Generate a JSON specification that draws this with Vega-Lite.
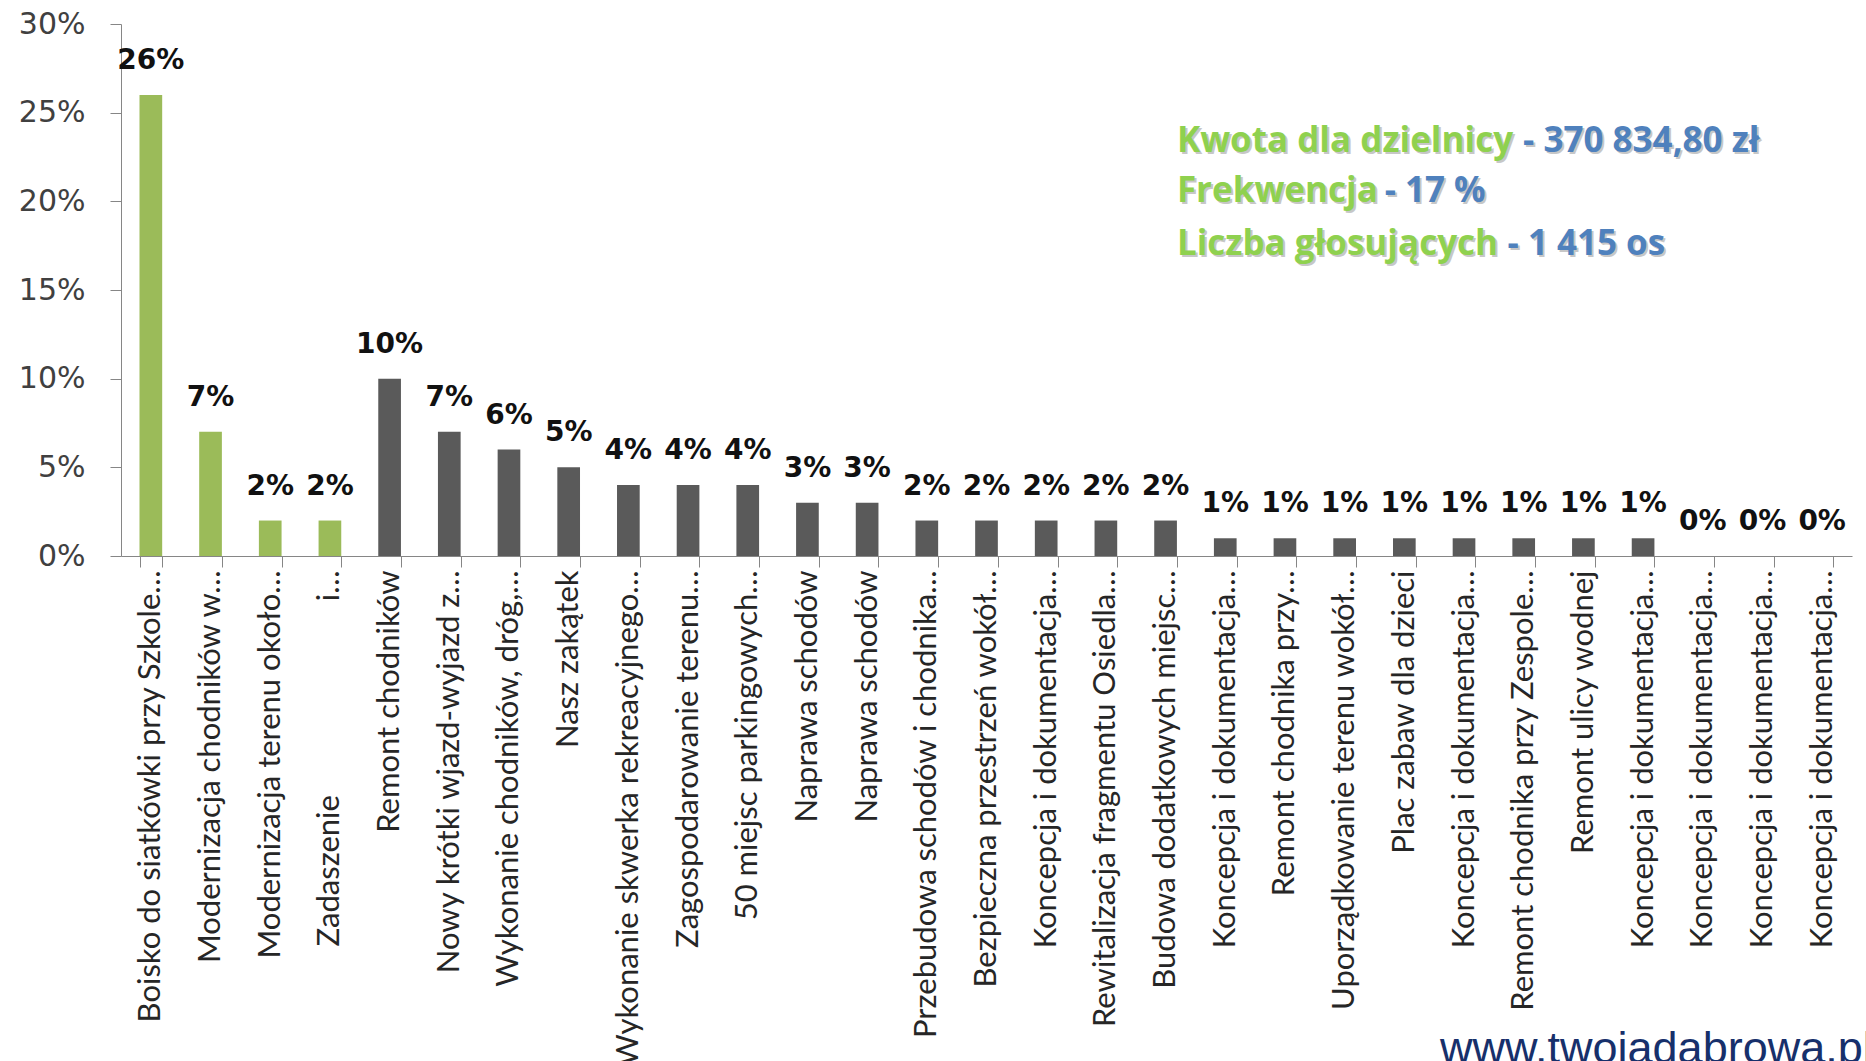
{
  "$schema": "https://vega.github.io/schema/vega-lite/v6.json",
  "width": 1731,
  "height": 532,
  "autosize": {"type": "none"},
  "padding": {"left": 121, "top": 24, "right": 14, "bottom": 505},
  "background": "#ffffff",
  "config": {"view": {"stroke": null}},
  "datasets": {
    "projekty": [
      {"projekt": "Boisko do siatkówki przy Szkole…", "procent": 0.26, "grupa": "zielona"},
      {"projekt": "Modernizacja chodników w…", "procent": 0.07, "grupa": "zielona"},
      {"projekt": "Modernizacja terenu około…", "procent": 0.02, "grupa": "zielona"},
      {"projekt": "Zadaszenie\u2003\u2003\u2003\u2003\u2003\u2003\u2003\u2003\u00a0i…", "procent": 0.02, "grupa": "zielona"},
      {"projekt": "Remont chodników", "procent": 0.10, "grupa": "szara"},
      {"projekt": "Nowy krótki wjazd-wyjazd z…", "procent": 0.07, "grupa": "szara"},
      {"projekt": "Wykonanie chodników, dróg,…", "procent": 0.06, "grupa": "szara"},
      {"projekt": "Nasz zakątek", "procent": 0.05, "grupa": "szara"},
      {"projekt": "Wykonanie skwerka rekreacyjnego…", "procent": 0.04, "grupa": "szara"},
      {"projekt": "Zagospodarowanie terenu…", "procent": 0.04, "grupa": "szara"},
      {"projekt": "50 miejsc parkingowych…", "procent": 0.04, "grupa": "szara"},
      {"projekt": "Naprawa schodów", "procent": 0.03, "grupa": "szara"},
      {"projekt": "Naprawa schodów\u200b", "procent": 0.03, "grupa": "szara"},
      {"projekt": "Przebudowa schodów i chodnika…", "procent": 0.02, "grupa": "szara"},
      {"projekt": "Bezpieczna przestrzeń wokół…", "procent": 0.02, "grupa": "szara"},
      {"projekt": "Koncepcja i dokumentacja…", "procent": 0.02, "grupa": "szara"},
      {"projekt": "Rewitalizacja fragmentu Osiedla…", "procent": 0.02, "grupa": "szara"},
      {"projekt": "Budowa dodatkowych miejsc…", "procent": 0.02, "grupa": "szara"},
      {"projekt": "Koncepcja i dokumentacja…\u200b", "procent": 0.01, "grupa": "szara"},
      {"projekt": "Remont chodnika przy…", "procent": 0.01, "grupa": "szara"},
      {"projekt": "Uporządkowanie terenu wokół…", "procent": 0.01, "grupa": "szara"},
      {"projekt": "Plac zabaw dla dzieci", "procent": 0.01, "grupa": "szara"},
      {"projekt": "Koncepcja i dokumentacja…\u200b\u200b", "procent": 0.01, "grupa": "szara"},
      {"projekt": "Remont chodnika przy Zespole…", "procent": 0.01, "grupa": "szara"},
      {"projekt": "Remont ulicy wodnej", "procent": 0.01, "grupa": "szara"},
      {"projekt": "Koncepcja i dokumentacja…\u200b\u200b\u200b", "procent": 0.01, "grupa": "szara"},
      {"projekt": "Koncepcja i dokumentacja…\u200b\u200b\u200b\u200b", "procent": 0.0, "grupa": "szara"},
      {"projekt": "Koncepcja i dokumentacja…\u200b\u200b\u200b\u200b\u200b", "procent": 0.0, "grupa": "szara"},
      {"projekt": "Koncepcja i dokumentacja…\u200b\u200b\u200b\u200b\u200b\u200b", "procent": 0.0, "grupa": "szara"}
    ],
    "adnotacje": [
      {"tekst": "Kwota dla dzielnicy", "rodzaj": "nazwa", "poz_x": 61.0, "poz_y": 0.2278},
      {"tekst": "- 370 834,80 zł", "rodzaj": "wartosc", "poz_x": 81.0, "poz_y": 0.2278},
      {"tekst": "Frekwencja", "rodzaj": "nazwa", "poz_x": 61.0, "poz_y": 0.1996},
      {"tekst": "- 17 %", "rodzaj": "wartosc", "poz_x": 73.0, "poz_y": 0.1996},
      {"tekst": "Liczba głosujących", "rodzaj": "nazwa", "poz_x": 61.0, "poz_y": 0.1697},
      {"tekst": "- 1 415 os", "rodzaj": "wartosc", "poz_x": 80.1, "poz_y": 0.1697}
    ],
    "strona": [
      {"tekst": "www.twojadabrowa.pl", "poz_x": 76.2, "poz_y": -0.2859}
    ]
  },
  "resolve": {"scale": {"x": "independent", "y": "independent", "color": "independent"}},
  "layer": [
    {
      "data": {"name": "projekty"},
      "layer": [
        {
          "mark": {"type": "bar"},
          "encoding": {
            "x": {
              "field": "projekt", "type": "nominal", "sort": null,
              "scale": {"paddingInner": 0.62, "paddingOuter": 0.31},
              "axis": {
                "title": null, "labelAngle": -90, "labelFont": "Lato", "labelFontSize": 31,
                "labelColor": "#262626", "labelLimit": 1200, "labelOverlap": false,
                "tickBand": "extent", "tickSize": 11, "tickColor": "#868686",
                "domainColor": "#868686", "labelPadding": 3
              }
            },
            "y": {
              "field": "procent", "type": "quantitative",
              "scale": {"domain": [0, 0.3], "nice": false},
              "axis": {
                "title": null, "values": [0, 0.05, 0.1, 0.15, 0.2, 0.25, 0.3], "format": ".0%",
                "grid": false, "labelFont": "DejaVu Sans", "labelFontSize": 30,
                "labelColor": "#404040", "tickSize": 11, "tickColor": "#868686",
                "domainColor": "#868686", "labelPadding": 25
              }
            },
            "color": {
              "field": "grupa", "type": "nominal", "legend": null,
              "scale": {"domain": ["zielona", "szara"], "range": ["#9bbb59", "#5a5a5a"]}
            }
          }
        },
        {
          "mark": {"type": "text", "font": "DejaVu Sans", "fontWeight": "bold", "fontSize": 28, "dy": -26, "baseline": "alphabetic", "color": "#111111"},
          "encoding": {
            "x": {"field": "projekt", "type": "nominal", "sort": null},
            "y": {"field": "procent", "type": "quantitative"},
            "text": {"field": "procent", "type": "quantitative", "format": ".0%"}
          }
        }
      ]
    },
    {
      "layer": [
        {
          "data": {"name": "adnotacje"},
          "mark": {"type": "text", "font": "Open Sans", "fontWeight": "bold", "fontSize": 35, "align": "left", "baseline": "alphabetic", "dx": 2, "dy": 2, "color": "#9a9a9a", "opacity": 0.55},
          "encoding": {
            "x": {"field": "poz_x", "type": "quantitative", "scale": {"domain": [0, 100]}, "axis": null},
            "y": {"field": "poz_y", "type": "quantitative", "scale": {"domain": [0, 0.3], "nice": false}, "axis": null},
            "text": {"field": "tekst"}
          }
        },
        {
          "data": {"name": "adnotacje"},
          "mark": {"type": "text", "font": "Open Sans", "fontWeight": "bold", "fontSize": 35, "align": "left", "baseline": "alphabetic"},
          "encoding": {
            "x": {"field": "poz_x", "type": "quantitative", "scale": {"domain": [0, 100]}, "axis": null},
            "y": {"field": "poz_y", "type": "quantitative", "scale": {"domain": [0, 0.3], "nice": false}, "axis": null},
            "text": {"field": "tekst"},
            "color": {
              "field": "rodzaj", "type": "nominal", "legend": null,
              "scale": {"domain": ["nazwa", "wartosc"], "range": ["#8fd14f", "#4f81bd"]}
            }
          }
        },
        {
          "data": {"name": "strona"},
          "mark": {"type": "text", "font": "Liberation Sans", "fontSize": 45, "align": "left", "baseline": "alphabetic", "color": "#17306b"},
          "encoding": {
            "x": {"field": "poz_x", "type": "quantitative", "scale": {"domain": [0, 100]}, "axis": null},
            "y": {"field": "poz_y", "type": "quantitative", "scale": {"domain": [0, 0.3], "nice": false}, "axis": null},
            "text": {"field": "tekst"}
          }
        }
      ]
    }
  ]
}
